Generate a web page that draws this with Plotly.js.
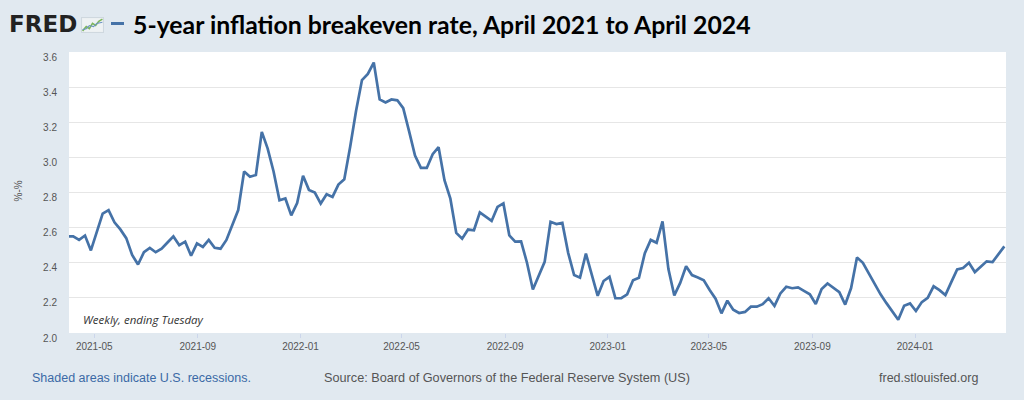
<!DOCTYPE html>
<html><head><meta charset="utf-8">
<script src="https://cdn.plot.ly/plotly-3.0.1.min.js"></script>
<style>html,body{margin:0;padding:0;background:#e1e9f0;}#chart{width:1024px;height:400px;}</style>
</head><body><div id="chart"></div>
<script>
// Weekly observations (week ending Tuesday), first Tuesday of each block
const firstWeek2021 = '2021-03-30';
const firstWeek2022 = '2022-01-04';
const firstWeek2023 = '2023-01-03';
const firstWeek2024 = '2024-01-02';

const values2021 = [2.55,2.55,2.53,2.555,2.47,2.575,2.68,2.70,2.63,2.59,2.54,2.445,2.39,2.46,2.485,2.46,2.48,2.515,2.55,2.50,
  2.52,2.44,2.51,2.49,2.53,2.485,2.48,2.53,2.61,2.70,2.92,2.89,2.90,3.145,3.05,2.92,2.756,2.766,2.67,2.74];
const values2022 = [2.895,2.815,2.80,2.737,2.79,2.775,2.845,2.875,3.06,3.265,3.44,3.475,3.54,3.33,3.313,3.33,3.325,3.28,3.148,3.01,
  2.94,2.94,3.018,3.058,2.87,2.765,2.57,2.537,2.589,2.585,2.687,2.665,2.638,2.718,2.738,2.556,2.52,2.522,2.40,2.248,
  2.325,2.405,2.633,2.62,2.627,2.455,2.33,2.315,2.452,2.335,2.212,2.296];
const values2023 = [2.32,2.198,2.198,2.22,2.30,2.315,2.455,2.53,2.514,2.635,2.364,2.214,2.285,2.38,2.33,2.316,2.30,2.245,2.195,2.112,
  2.184,2.133,2.114,2.12,2.15,2.15,2.164,2.198,2.154,2.225,2.263,2.255,2.26,2.24,2.22,2.165,2.25,2.282,2.26,2.233,
  2.162,2.256,2.43,2.40,2.34,2.28,2.22,2.17,2.12,2.075,2.155,2.168];
const values2024 = [2.125,2.176,2.20,2.266,2.244,2.216,2.29,2.362,2.37,2.40,2.347,2.38,2.408,2.404,2.448,2.493];

const seriesName = '5-year inflation breakeven rate';
const titleText = '5-year inflation breakeven rate, April 2021 to April 2024';
const yTitle = '%-%';
const noteText = 'Weekly, ending Tuesday';
const footerLeft = 'Shaded areas indicate U.S. recessions.';
const footerMid = 'Source: Board of Governors of the Federal Reserve System (US)';
const footerRight = 'fred.stlouisfed.org';
const xRange = ['2021-04-01', '2024-04-18'];
const yRange = [2.0, 3.6];

function weekly(start, n) {
  const out = [];
  const d0 = new Date(start + 'T00:00:00Z');
  for (let i = 0; i < n; i++) {
    const d = new Date(d0.getTime() + i * 7 * 86400000);
    out.push(d.toISOString().slice(0, 10));
  }
  return out;
}
const dates = [].concat(
  weekly(firstWeek2021, values2021.length),
  weekly(firstWeek2022, values2022.length),
  weekly(firstWeek2023, values2023.length),
  weekly(firstWeek2024, values2024.length));
const values = [].concat(values2021, values2022, values2023, values2024);

// layout geometry (pixels)
const W = 1024, H = 400;
const M = {l: 69, r: 18, t: 52, b: 67};
const pw = W - M.l - M.r, ph = H - M.t - M.b;
const px = x => (x - M.l) / pw;
const py = y => (H - M.b - y) / ph;

const icon = "<svg xmlns='http://www.w3.org/2000/svg' viewBox='0 0 22 15'>" +
  "<rect x='0.5' y='0.5' width='21' height='14' fill='#eef2f4' stroke='#cfd8df'/>" +
  "<polyline points='1.5,13 5,9 8,11 11,6 14,8 17,4 20.5,2' fill='none' stroke='#7cb65a' stroke-width='1.5'/>" +
  "<polyline points='1.5,12 5,11 8,8 12,9 15,6 20.5,5' fill='none' stroke='#6d94c4' stroke-width='1'/>" +
  "</svg>";

const trace = {
  x: dates, y: values, type: 'scatter', mode: 'lines', name: seriesName,
  line: {color: '#4572a7', width: 2.7},
  hoverinfo: 'x+y'
};

const layout = {
  width: W, height: H,
  paper_bgcolor: '#e1e9f0', plot_bgcolor: '#ffffff',
  margin: M, showlegend: false,
  font: {family: 'Liberation Sans, Arial, sans-serif', size: 10, color: '#555'},
  title: {
    text: titleText, x: 133 / W, xref: 'container', xanchor: 'left',
    y: 1 - 25.5 / H, yref: 'container', yanchor: 'middle',
    font: {family: 'Lato, Open Sans, sans-serif', size: 24.8, weight: 700, color: '#000'}
  },
  xaxis: {
    type: 'date', range: xRange, tickformat: '%Y-%m', dtick: 'M4', tick0: '2021-01-01',
    showgrid: false, zeroline: false, showline: false,
    ticks: 'outside', ticklen: 4, tickcolor: '#ccd6eb', tickwidth: 1,
    tickfont: {size: 10, color: '#555'}
  },
  yaxis: {
    range: yRange, dtick: 0.2, tick0: 2.0, tickformat: '.1f',
    showgrid: true, gridcolor: '#e6e6e6', gridwidth: 1, zeroline: false, showline: false,
    ticks: '', ticklabelstandoff: 11, ticklabelshift: 5,
    tickfont: {size: 10, color: '#555'}
  },
  shapes: [
    {type: 'line', xref: 'paper', yref: 'paper', x0: px(111), x1: px(124), y0: py(23.5), y1: py(23.5),
     line: {color: '#4572a7', width: 3}}
  ],
  images: [
    {source: 'data:image/svg+xml;charset=utf-8,' + encodeURIComponent(icon),
     xref: 'paper', yref: 'paper', x: px(81), y: py(17), sizex: 23 / pw, sizey: 16 / ph,
     xanchor: 'left', yanchor: 'top', sizing: 'stretch', layer: 'above'}
  ],
  annotations: [
    {text: '<b>FRED</b>', xref: 'paper', yref: 'paper', x: px(7), y: py(24.5), xanchor: 'left', yanchor: 'middle',
     showarrow: false, font: {family: 'DejaVu Sans, sans-serif', size: 23, color: '#222'}},
    {text: yTitle, xref: 'paper', yref: 'paper', x: px(17.5), y: py(191), xanchor: 'center', yanchor: 'middle',
     textangle: -90, showarrow: false, font: {size: 10, color: '#555'}},
    {text: '<i>' + noteText + '</i>', xref: 'paper', yref: 'paper', x: px(81), y: py(319.5), xanchor: 'left', yanchor: 'middle',
     showarrow: false, font: {family: 'Open Sans, sans-serif', size: 11.5, color: '#333'}},
    {text: footerLeft, xref: 'paper', yref: 'paper', x: px(30), y: py(378), xanchor: 'left', yanchor: 'middle',
     showarrow: false, font: {size: 12.5, color: '#3b6aa6'}},
    {text: footerMid, xref: 'paper', yref: 'paper', x: px(322), y: py(378), xanchor: 'left', yanchor: 'middle',
     showarrow: false, font: {size: 12.7, color: '#555'}},
    {text: footerRight, xref: 'paper', yref: 'paper', x: px(980), y: py(378), xanchor: 'right', yanchor: 'middle',
     showarrow: false, font: {size: 12.5, color: '#555'}}
  ]
};

Plotly.newPlot('chart', [trace], layout, {displayModeBar: false, staticPlot: true});
</script>
</body></html>
